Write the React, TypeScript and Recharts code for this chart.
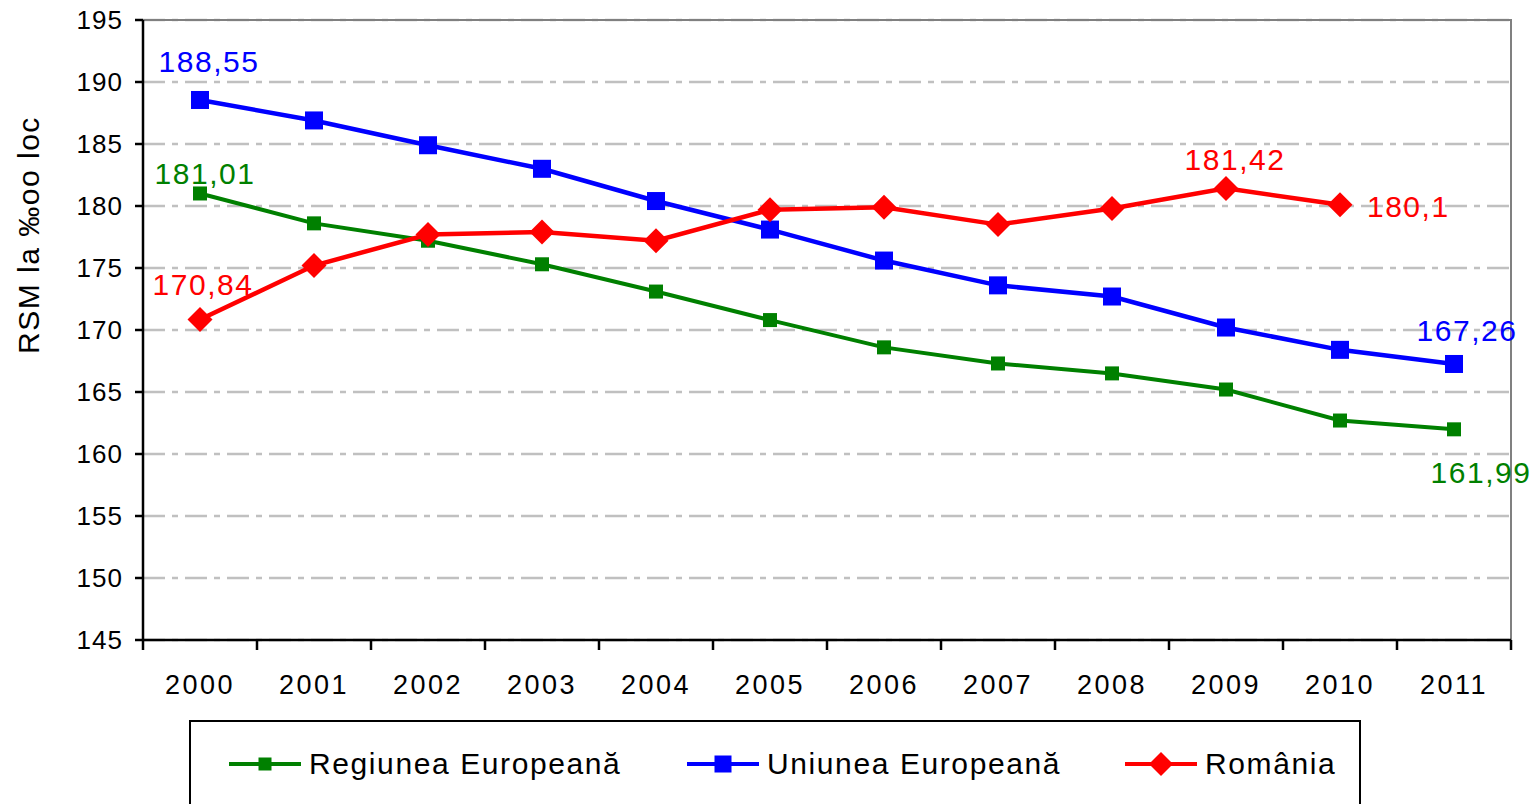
import { LineChart, Line, XAxis, YAxis, CartesianGrid, ReferenceArea } from "recharts";

// RSM per 100k inhabitants, 2000-2011
const years = ["2000", "2001", "2002", "2003", "2004", "2005", "2006", "2007", "2008", "2009", "2010", "2011"];
const regiuneaEuropeana = [181.01, 178.6, 177.2, 175.3, 173.1, 170.8, 168.6, 167.3, 166.5, 165.2, 162.7, 161.99];
const uniuneaEuropeana = [188.55, 186.9, 184.9, 183.0, 180.4, 178.1, 175.6, 173.6, 172.7, 170.2, 168.4, 167.26];
const romania = [170.84, 175.2, 177.7, 177.9, 177.2, 179.7, 179.9, 178.5, 179.8, 181.42, 180.1, null];
const yTicks = [145, 150, 155, 160, 165, 170, 175, 180, 185, 190, 195];

const FONT = "'Liberation Sans', Arial, sans-serif";
const GREEN = "#008000";
const BLUE = "#0000ff";
const RED = "#ff0000";

const W = 1540;
const H = 804;
const LEFT = 143;
const RIGHT = 29;
const BAND = (W - LEFT - RIGHT) / years.length;

const data = years.map((year, i) => ({
  year,
  reg: regiuneaEuropeana[i],
  ue: uniuneaEuropeana[i],
  ro: romania[i],
}));

const fmt = (v: number) => String(v).replace(".", ",");

function squareDot(size: number, color: string) {
  return (p: any) => {
    if (p.cy == null || p.value == null) return <g key={p.key} />;
    return <rect key={p.key} x={p.cx - size / 2} y={p.cy - size / 2} width={size} height={size} fill={color} />;
  };
}

function diamondDot(r: number, color: string) {
  return (p: any) => {
    if (p.cy == null || p.value == null) return <g key={p.key} />;
    const { cx, cy } = p;
    return <polygon key={p.key} points={`${cx},${cy - r} ${cx + r},${cy} ${cx},${cy + r} ${cx - r},${cy}`} fill={color} />;
  };
}

// only some points carry a value label
function endLabels(color: string, place: Record<number, [number, number, string]>) {
  return (p: any) => {
    const spot = place[p.index];
    if (!spot || p.value == null) return null;
    return (
      <text
        key={`l${p.index}`}
        x={p.x + spot[0]}
        y={p.y + spot[1]}
        textAnchor={spot[2] as any}
        dominantBaseline="central"
        fill={color}
        fontSize={30}
        letterSpacing={1.5}
        fontFamily={FONT}
      >
        {fmt(p.value)}
      </text>
    );
  };
}

function YearTick(props: any) {
  const { x, y, payload, index } = props;
  const last = index === years.length - 1;
  return (
    <g>
      <line x1={x - BAND / 2} x2={x - BAND / 2} y1={y - 8} y2={y + 2} stroke="#000" strokeWidth={2.5} />
      {last && <line x1={x + BAND / 2} x2={x + BAND / 2} y1={y - 8} y2={y + 2} stroke="#000" strokeWidth={2.5} />}
      <text x={x} y={y + 46} textAnchor="middle" fontSize={27} letterSpacing={2.5} fill="#000" fontFamily={FONT}>
        {payload.value}
      </text>
    </g>
  );
}

const legendItems = [
  { name: "Regiunea Europeană", color: GREEN, shape: "sq", size: 13, left: 227 },
  { name: "Uniunea Europeană", color: BLUE, shape: "sq", size: 17, left: 685 },
  { name: "România", color: RED, shape: "dia", size: 12, left: 1123 },
];

function LegendBox() {
  return (
    <div
      style={{
        position: "absolute",
        left: 189,
        top: 720,
        width: 1172,
        height: 120,
        border: "2.5px solid #000",
        boxSizing: "border-box",
        background: "#fff",
      }}
    >
      {legendItems.map((it) => (
        <div key={it.name} style={{ position: "absolute", left: it.left - 189, top: 25, display: "flex", alignItems: "center" }}>
          <svg width={74} height={30}>
            <line x1={0} x2={72} y1={15} y2={15} stroke={it.color} strokeWidth={4} />
            {it.shape === "sq" ? (
              <rect x={36 - it.size / 2} y={15 - it.size / 2} width={it.size} height={it.size} fill={it.color} />
            ) : (
              <polygon points={`36,${15 - it.size} ${36 + it.size},15 36,${15 + it.size} ${36 - it.size},15`} fill={it.color} />
            )}
          </svg>
          <span style={{ marginLeft: 6, fontFamily: FONT, fontSize: 30, letterSpacing: 1.6, color: "#000" }}>{it.name}</span>
        </div>
      ))}
    </div>
  );
}

export default function App() {
  return (
    <div style={{ position: "absolute", left: 0, top: 0, width: W, height: H, background: "#fff", overflow: "hidden" }}>
      <LineChart width={W} height={H} data={data} margin={{ top: 20, right: RIGHT, left: 0, bottom: 0 }}>
        <CartesianGrid vertical={false} stroke="#c0c0c0" strokeWidth={2.5} strokeDasharray="22 7 6 7" />
        <ReferenceArea y1={145} y2={195} fill="none" stroke="#808080" strokeWidth={2} ifOverflow="visible" />
        <XAxis
          dataKey="year"
          scale="band"
          height={164}
          tickLine={false}
          axisLine={{ stroke: "#000", strokeWidth: 2.5 }}
          tick={<YearTick />}
          interval={0}
        />
        <YAxis
          width={LEFT}
          domain={[145, 195]}
          ticks={yTicks}
          interval={0}
          tickSize={8}
          tickMargin={12}
          axisLine={{ stroke: "#000", strokeWidth: 2.5 }}
          tickLine={{ stroke: "#000", strokeWidth: 2.5 }}
          tick={{ fontSize: 26, fill: "#000", fontFamily: FONT, letterSpacing: 1 }}
          label={(p: any) => (
            <text
              x={28}
              y={p.viewBox.y + 215}
              transform={`rotate(-90, 28, ${p.viewBox.y + 215})`}
              textAnchor="middle"
              dominantBaseline="central"
              fontSize={30}
              letterSpacing={1.5}
              fill="#000"
              fontFamily={FONT}
            >
              RSM la ‰oo loc
            </text>
          )}
        />
        <Line
          dataKey="reg"
          stroke={GREEN}
          strokeWidth={4}
          dot={squareDot(14, GREEN)}
          activeDot={false}
          isAnimationActive={false}
          label={endLabels(GREEN, { 0: [5, -20, "middle"], 11: [27, 43, "middle"] })}
        />
        <Line
          dataKey="ue"
          stroke={BLUE}
          strokeWidth={4.5}
          dot={squareDot(18, BLUE)}
          activeDot={false}
          isAnimationActive={false}
          label={endLabels(BLUE, { 0: [9, -38, "middle"], 11: [13, -33, "middle"] })}
        />
        <Line
          dataKey="ro"
          stroke={RED}
          strokeWidth={4.5}
          dot={diamondDot(12.5, RED)}
          activeDot={false}
          isAnimationActive={false}
          label={endLabels(RED, { 0: [3, -35, "middle"], 9: [9, -29, "middle"], 10: [27, 2, "start"] })}
        />
      </LineChart>
      <LegendBox />
    </div>
  );
}
